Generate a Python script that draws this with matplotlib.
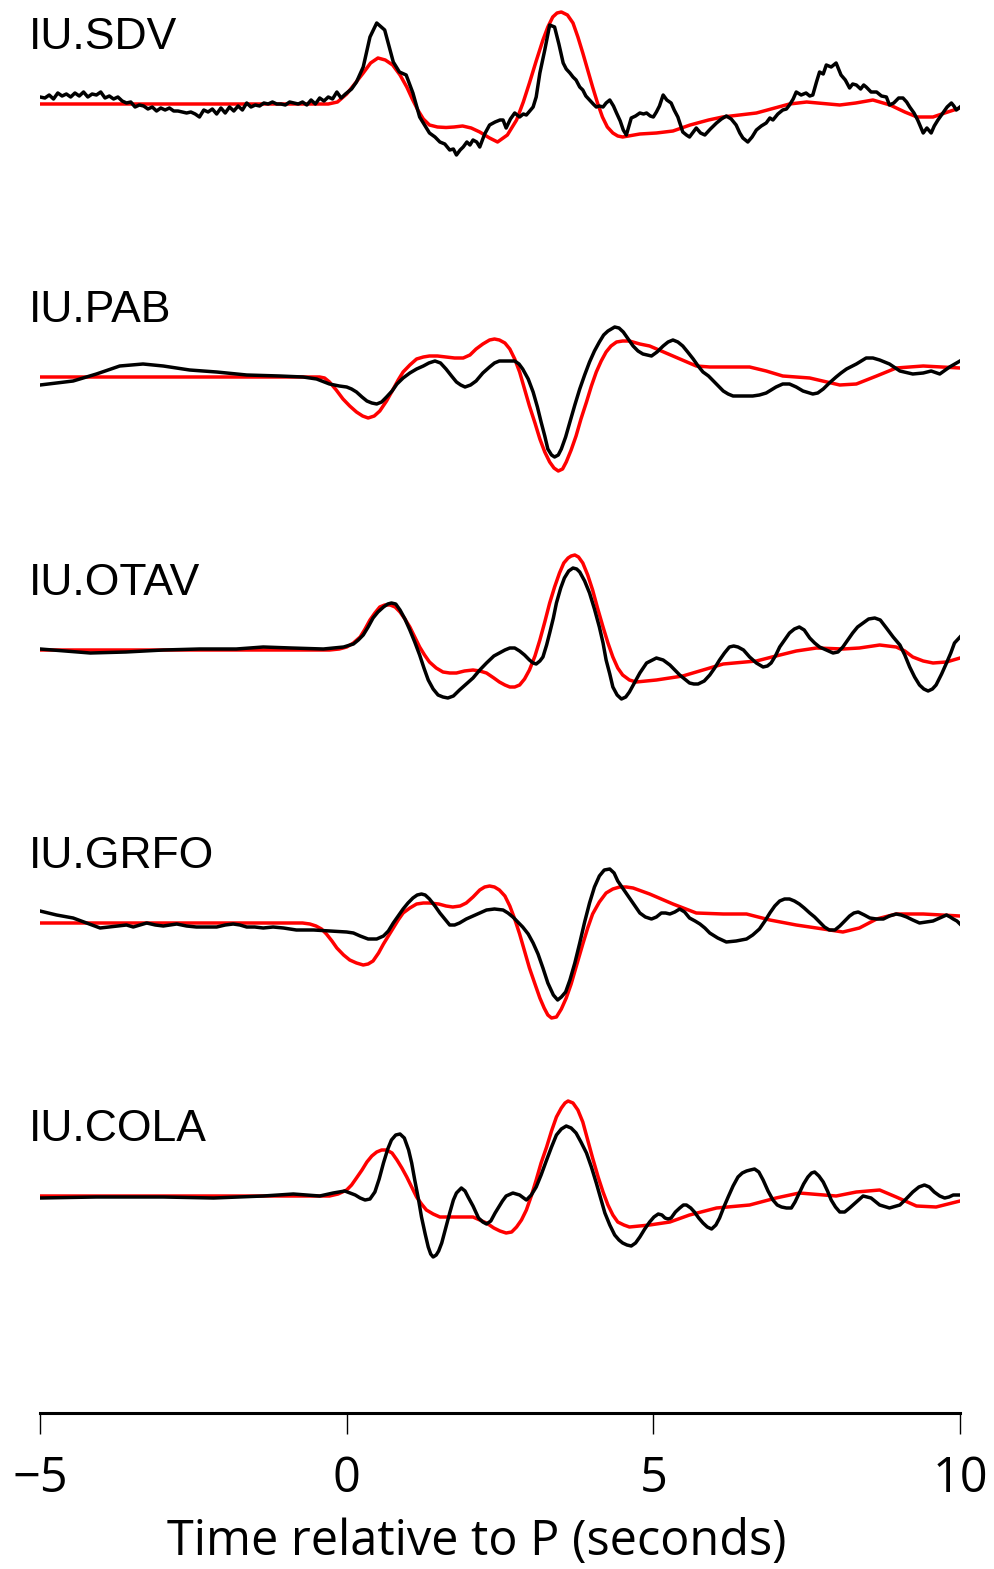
import numpy as np
import matplotlib
matplotlib.use("Agg")
import matplotlib.pyplot as plt

# Station names, top to bottom
stations = ["IU.SDV", "IU.PAB", "IU.OTAV", "IU.GRFO", "IU.COLA"]

# ---------------- IU.SDV ----------------
sdv_obs_t = [
    -5.00, -4.92, -4.85, -4.78, -4.71, -4.64, -4.57, -4.50, -4.43, -4.36,
    -4.29, -4.22, -4.15, -4.08, -4.01, -3.94, -3.87, -3.80, -3.73, -3.66,
    -3.59, -3.52, -3.45, -3.38, -3.31, -3.24, -3.17, -3.10, -3.03, -2.96,
    -2.89, -2.82, -2.75, -2.68, -2.61, -2.54, -2.47, -2.40, -2.33, -2.26,
    -2.19, -2.12, -2.05, -1.98, -1.91, -1.84, -1.77, -1.70, -1.63, -1.56,
    -1.49, -1.42, -1.35, -1.28, -1.21, -1.14, -1.07, -1.00, -0.93, -0.86,
    -0.79, -0.72, -0.65, -0.58, -0.51, -0.44, -0.37, -0.30, -0.23, -0.16,
    -0.09, -0.02,
    0.08, 0.16, 0.27, 0.38, 0.49, 0.62, 0.76, 0.86, 0.97, 1.08,
    1.19, 1.35, 1.44, 1.52, 1.60, 1.68, 1.74, 1.79, 1.85, 1.90,
    1.96, 2.01, 2.06, 2.12, 2.17, 2.25, 2.33, 2.42, 2.50, 2.55,
    2.60, 2.67, 2.74, 2.82, 2.88, 2.93, 3.04, 3.09, 3.15, 3.23,
    3.31, 3.39, 3.46, 3.53, 3.58, 3.64, 3.69, 3.74, 3.80, 3.85,
    3.90, 3.96, 4.02, 4.07, 4.12, 4.18, 4.23, 4.29, 4.35, 4.40,
    4.46, 4.51, 4.56, 4.64, 4.71, 4.78, 4.84, 4.89, 4.95, 5.00,
    5.05, 5.10, 5.16, 5.22, 5.29, 5.34, 5.40, 5.48, 5.54, 5.59,
    5.65, 5.70, 5.77, 5.84, 5.93, 6.03, 6.11, 6.19, 6.27, 6.35,
    6.41, 6.46, 6.54, 6.61, 6.68, 6.76, 6.84, 6.90, 6.95, 7.03,
    7.11, 7.17, 7.22, 7.28, 7.33, 7.41, 7.49, 7.55, 7.60, 7.66,
    7.71, 7.77, 7.82, 7.90, 7.98, 8.06, 8.13, 8.20, 8.25, 8.31,
    8.38, 8.43, 8.47, 8.55, 8.64, 8.72, 8.80, 8.85, 8.92, 9.00,
    9.07, 9.13, 9.18, 9.25, 9.31, 9.40, 9.46, 9.53, 9.58, 9.64,
    9.72, 9.79, 9.86, 9.90, 9.94, 10.0,
]
sdv_obs_a = [
    0.07, 0.06, 0.09, 0.05, 0.11, 0.08, 0.10, 0.07, 0.11, 0.08,
    0.12, 0.07, 0.10, 0.09, 0.12, 0.06, 0.08, 0.05, 0.07, 0.03,
    0.01, 0.02, -0.03, -0.01, -0.02, -0.05, -0.03, -0.07, -0.04, -0.06,
    -0.04, -0.07, -0.07, -0.08, -0.09, -0.08, -0.10, -0.13, -0.06, -0.08,
    -0.05, -0.10, -0.04, -0.09, -0.03, -0.07, -0.02, -0.06, 0.01, -0.03,
    -0.01, -0.02, 0.01, 0.00, 0.02, 0.00, 0.00, -0.01, 0.02, 0.01,
    0.00, 0.02, -0.01, 0.04, 0.00, 0.06, 0.03, 0.07, 0.05, 0.12,
    0.06, 0.10,
    0.15, 0.22, 0.37, 0.67, 0.81, 0.74, 0.42, 0.32, 0.29, 0.11,
    -0.13, -0.29, -0.33, -0.38, -0.40, -0.46, -0.45, -0.51, -0.46, -0.43,
    -0.38, -0.41, -0.36, -0.38, -0.43, -0.30, -0.21, -0.18, -0.16, -0.16,
    -0.24, -0.15, -0.09, -0.13, -0.10, -0.11, -0.03, 0.07, 0.31, 0.54,
    0.79, 0.77, 0.60, 0.41, 0.35, 0.31, 0.27, 0.24, 0.17, 0.14,
    0.08, 0.04, 0.00, -0.03, -0.02, -0.03, 0.01, 0.04, -0.02, -0.09,
    -0.17, -0.26, -0.31, -0.14, -0.12, -0.09, -0.10, -0.09, -0.12, -0.13,
    -0.08, -0.02, 0.09, 0.04, 0.01, -0.06, -0.13, -0.28, -0.31, -0.33,
    -0.28, -0.24, -0.29, -0.31, -0.25, -0.19, -0.15, -0.12, -0.15, -0.21,
    -0.29, -0.34, -0.38, -0.33, -0.26, -0.22, -0.19, -0.14, -0.16, -0.10,
    -0.06, -0.05, -0.01, 0.05, 0.12, 0.09, 0.11, 0.08, 0.09, 0.22,
    0.32, 0.30, 0.39, 0.37, 0.41, 0.29, 0.24, 0.16, 0.20, 0.19,
    0.15, 0.19, 0.17, 0.12, 0.12, 0.08, 0.07, -0.01, 0.01, 0.06,
    0.06, 0.02, -0.03, -0.09, -0.16, -0.29, -0.24, -0.29, -0.22, -0.16,
    -0.09, -0.03, 0.01, -0.02, -0.06, -0.03,
]
sdv_syn_t = [
    -5.0, -0.30, -0.15, 0.00, 0.13, 0.27, 0.39, 0.51, 0.63, 0.75,
    0.87, 0.98, 1.07, 1.16, 1.25, 1.35, 1.48, 1.62, 1.75, 1.89,
    2.03, 2.17, 2.33, 2.46, 2.62, 2.77, 2.88, 2.98, 3.09, 3.20,
    3.28, 3.36, 3.43, 3.50, 3.60, 3.69, 3.77, 3.85, 3.93, 4.01,
    4.09, 4.17, 4.25, 4.34, 4.42, 4.50, 4.78, 5.05, 5.32, 5.60,
    5.90, 6.13, 6.68, 7.22, 7.50, 8.04, 8.30, 8.58, 8.86, 9.10,
    9.30, 9.56, 9.80, 10.0,
]
sdv_syn_a = [
    0.0, 0.0, 0.02, 0.10, 0.20, 0.31, 0.41, 0.46, 0.44, 0.39,
    0.29, 0.17, 0.05, -0.06, -0.15, -0.21, -0.23, -0.235, -0.23, -0.22,
    -0.24, -0.28, -0.34, -0.38, -0.31, -0.16, 0.02, 0.21, 0.43, 0.64,
    0.77, 0.87, 0.91, 0.92, 0.89, 0.81, 0.67, 0.51, 0.34, 0.17,
    0.01, -0.13, -0.23, -0.29, -0.32, -0.33, -0.30, -0.29, -0.27, -0.21,
    -0.16, -0.13, -0.09, 0.00, 0.02, -0.01, 0.01, 0.04, -0.01, -0.08,
    -0.13, -0.13, -0.08, -0.04,
]

# ---------------- IU.PAB ----------------
pab_obs_t = [
    -5.0, -4.46, -4.08, -3.70, -3.32, -2.99, -2.56, -2.12, -1.63, -1.09,
    -0.71, -0.49, -0.28, -0.12, 0.00, 0.08, 0.16, 0.25, 0.33, 0.41,
    0.49, 0.57, 0.65, 0.74, 0.82, 0.92, 1.03, 1.14, 1.25, 1.34,
    1.44, 1.53, 1.62, 1.71, 1.79, 1.86, 1.93, 2.02, 2.11, 2.22,
    2.33, 2.41, 2.49, 2.62, 2.74, 2.81, 2.87, 2.96, 3.04, 3.11,
    3.17, 3.23, 3.28, 3.34, 3.39, 3.45, 3.50, 3.57, 3.64, 3.72,
    3.80, 3.88, 3.96, 4.04, 4.12, 4.19, 4.26, 4.37, 4.44, 4.51,
    4.59, 4.67, 4.75, 4.83, 4.97, 5.06, 5.16, 5.24, 5.32, 5.40,
    5.48, 5.56, 5.65, 5.73, 5.81, 5.90, 5.98, 6.06, 6.14, 6.22,
    6.30, 6.46, 6.62, 6.73, 6.84, 6.92, 7.00, 7.11, 7.22, 7.33,
    7.44, 7.60, 7.68, 7.77, 7.87, 7.98, 8.06, 8.15, 8.31, 8.47,
    8.58, 8.69, 8.85, 9.02, 9.23, 9.40, 9.53, 9.67, 9.83, 10.0,
]
pab_obs_a = [
    -0.08, -0.04, 0.03, 0.11, 0.13, 0.11, 0.07, 0.05, 0.02, 0.01,
    0.00, -0.02, -0.07, -0.09, -0.10, -0.12, -0.15, -0.20, -0.24, -0.26,
    -0.27, -0.25, -0.20, -0.14, -0.07, -0.01, 0.04, 0.08, 0.11, 0.14,
    0.16, 0.14, 0.08, 0.01, -0.05, -0.08, -0.10, -0.08, -0.04, 0.04,
    0.10, 0.14, 0.16, 0.16, 0.16, 0.13, 0.08, -0.02, -0.15, -0.30,
    -0.45, -0.59, -0.72, -0.78, -0.80, -0.78, -0.72, -0.60, -0.45, -0.28,
    -0.12, 0.02, 0.15, 0.26, 0.35, 0.42, 0.46, 0.50, 0.49, 0.45,
    0.38, 0.31, 0.26, 0.23, 0.21, 0.25, 0.31, 0.35, 0.37, 0.35,
    0.31, 0.25, 0.18, 0.11, 0.05, 0.01, -0.04, -0.09, -0.14, -0.17,
    -0.19, -0.19, -0.19, -0.18, -0.16, -0.13, -0.10, -0.07, -0.07, -0.10,
    -0.14, -0.17, -0.16, -0.12, -0.06, 0.00, 0.04, 0.08, 0.13, 0.19,
    0.19, 0.17, 0.13, 0.06, 0.03, 0.04, 0.06, 0.03, 0.10, 0.16,
]
pab_syn_t = [
    -5.0, -0.44, -0.36, -0.28, -0.17, -0.06, 0.05, 0.16, 0.26, 0.35,
    0.45, 0.54, 0.65, 0.76, 0.84, 0.92, 1.03, 1.14, 1.25, 1.35,
    1.48, 1.62, 1.76, 1.90, 2.01, 2.11, 2.22, 2.33, 2.41, 2.49,
    2.58, 2.66, 2.74, 2.82, 2.90, 2.98, 3.07, 3.15, 3.23, 3.31,
    3.38, 3.45, 3.52, 3.58, 3.66, 3.74, 3.82, 3.91, 3.99, 4.07,
    4.15, 4.23, 4.31, 4.40, 4.50, 4.61, 4.78, 4.94, 5.13, 5.32,
    5.51, 5.70, 5.92, 6.14, 6.57, 6.84, 7.11, 7.55, 8.04, 8.31,
    8.64, 8.96, 9.40, 10.0,
]
pab_syn_a = [
    0.0, 0.0, -0.01, -0.05, -0.13, -0.22, -0.29, -0.35, -0.39, -0.41,
    -0.39, -0.34, -0.24, -0.12, -0.03, 0.05, 0.12, 0.18, 0.20, 0.21,
    0.21, 0.20, 0.19, 0.19, 0.22, 0.28, 0.33, 0.37, 0.38, 0.37,
    0.34, 0.28, 0.18, 0.05, -0.12, -0.29, -0.46, -0.62, -0.75, -0.85,
    -0.91, -0.94, -0.92, -0.85, -0.73, -0.59, -0.42, -0.25, -0.09, 0.05,
    0.16, 0.25, 0.31, 0.35, 0.36, 0.36, 0.33, 0.31, 0.26, 0.21,
    0.16, 0.11, 0.10, 0.10, 0.10, 0.06, 0.01, -0.01, -0.08, -0.07,
    0.01, 0.09, 0.11, 0.09,
]

# ---------------- IU.OTAV ----------------
otav_obs_t = [
    -5.0, -4.6, -4.18, -3.6, -2.99, -2.4, -1.8, -1.36, -0.9, -0.38,
    -0.05, 0.11, 0.19, 0.27, 0.35, 0.43, 0.51, 0.60, 0.67, 0.73,
    0.80, 0.87, 0.95, 1.03, 1.11, 1.19, 1.26, 1.33, 1.41, 1.49,
    1.57, 1.65, 1.74, 1.84, 1.95, 2.06, 2.17, 2.28, 2.40, 2.49,
    2.58, 2.66, 2.74, 2.82, 2.90, 2.98, 3.04, 3.09, 3.15, 3.20,
    3.26, 3.31, 3.37, 3.42, 3.49, 3.55, 3.62, 3.69, 3.75, 3.80,
    3.88, 3.96, 4.04, 4.12, 4.18, 4.23, 4.29, 4.34, 4.41, 4.48,
    4.55, 4.61, 4.70, 4.78, 4.89, 5.05, 5.16, 5.27, 5.35, 5.43,
    5.51, 5.59, 5.66, 5.73, 5.83, 5.92, 6.00, 6.08, 6.16, 6.24,
    6.31, 6.38, 6.47, 6.57, 6.68, 6.79, 6.86, 6.92, 6.99, 7.06,
    7.14, 7.22, 7.30, 7.38, 7.46, 7.55, 7.63, 7.71, 7.82, 7.93,
    8.01, 8.09, 8.17, 8.25, 8.33, 8.42, 8.51, 8.61, 8.70, 8.80,
    8.91, 9.02, 9.10, 9.18, 9.26, 9.34, 9.41, 9.48, 9.55, 9.61,
    9.70, 9.78, 9.85, 9.91, 10.0,
]
otav_obs_a = [
    0.01, -0.01, -0.03, -0.02, 0.00, 0.01, 0.01, 0.03, 0.02, 0.01,
    0.03, 0.06, 0.10, 0.15, 0.23, 0.32, 0.38, 0.43, 0.46, 0.47,
    0.46, 0.40, 0.31, 0.20, 0.08, -0.05, -0.18, -0.30, -0.39, -0.45,
    -0.47, -0.48, -0.46, -0.40, -0.34, -0.28, -0.20, -0.13, -0.06, -0.03,
    0.00, 0.02, 0.02, -0.01, -0.05, -0.10, -0.13, -0.14, -0.11, -0.07,
    0.05, 0.17, 0.32, 0.47, 0.62, 0.72, 0.79, 0.82, 0.81, 0.78,
    0.69, 0.57, 0.41, 0.23, 0.07, -0.10, -0.24, -0.37, -0.45, -0.49,
    -0.47, -0.42, -0.32, -0.23, -0.13, -0.08, -0.10, -0.15, -0.20, -0.25,
    -0.29, -0.33, -0.34, -0.34, -0.31, -0.25, -0.18, -0.10, -0.03, 0.03,
    0.04, 0.03, 0.00, -0.07, -0.13, -0.17, -0.16, -0.13, -0.06, 0.03,
    0.10, 0.17, 0.21, 0.23, 0.20, 0.12, 0.07, 0.03, 0.00, -0.03,
    -0.02, 0.03, 0.10, 0.17, 0.23, 0.27, 0.31, 0.32, 0.30, 0.22,
    0.13, 0.05, -0.05, -0.17, -0.27, -0.35, -0.39, -0.41, -0.39, -0.35,
    -0.24, -0.13, -0.03, 0.07, 0.13,
]
otav_syn_t = [
    -5.0, -2.0, -0.28, -0.12, 0.00, 0.11, 0.22, 0.30, 0.38, 0.46,
    0.54, 0.62, 0.71, 0.79, 0.87, 0.95, 1.03, 1.11, 1.19, 1.27,
    1.35, 1.46, 1.57, 1.68, 1.79, 1.92, 2.06, 2.17, 2.28, 2.40,
    2.49, 2.58, 2.66, 2.74, 2.82, 2.90, 2.98, 3.07, 3.15, 3.23,
    3.31, 3.39, 3.47, 3.54, 3.61, 3.66, 3.72, 3.78, 3.85, 3.93,
    4.01, 4.09, 4.18, 4.26, 4.34, 4.42, 4.50, 4.61, 4.72, 5.05,
    5.48, 5.70, 6.14, 6.68, 7.00, 7.33, 7.66, 8.09, 8.36, 8.69,
    8.96, 9.10, 9.23, 9.40, 9.56, 9.78, 10.0,
]
otav_syn_a = [
    0.0, 0.0, 0.0, 0.01, 0.03, 0.07, 0.13, 0.21, 0.30, 0.37,
    0.43, 0.45, 0.45, 0.43, 0.38, 0.31, 0.23, 0.13, 0.03, -0.05,
    -0.12, -0.18, -0.22, -0.23, -0.23, -0.21, -0.20, -0.21, -0.23, -0.28,
    -0.32, -0.35, -0.37, -0.37, -0.35, -0.29, -0.20, -0.06, 0.10, 0.28,
    0.47, 0.63, 0.77, 0.87, 0.92, 0.94, 0.95, 0.93, 0.87, 0.75,
    0.60, 0.42, 0.23, 0.07, -0.07, -0.18, -0.25, -0.30, -0.32, -0.30,
    -0.26, -0.22, -0.14, -0.11, -0.06, -0.01, 0.02, 0.01, 0.02, 0.05,
    0.03, -0.01, -0.07, -0.11, -0.13, -0.12, -0.08,
]

# ---------------- IU.GRFO ----------------
grfo_obs_t = [
    -5.0, -4.73, -4.46, -4.24, -4.02, -3.88, -3.75, -3.59, -3.48, -3.37,
    -3.26, -3.12, -2.99, -2.88, -2.77, -2.61, -2.45, -2.28, -2.12, -1.98,
    -1.85, -1.74, -1.63, -1.50, -1.36, -1.20, -1.03, -0.82, -0.54, -0.28,
    0.00, 0.11, 0.22, 0.35, 0.49, 0.60, 0.68, 0.76, 0.84, 0.92,
    1.00, 1.08, 1.15, 1.22, 1.28, 1.35, 1.44, 1.52, 1.60, 1.68,
    1.76, 1.84, 1.95, 2.06, 2.17, 2.28, 2.41, 2.55, 2.63, 2.71,
    2.79, 2.87, 2.96, 3.04, 3.12, 3.20, 3.28, 3.37, 3.44, 3.50,
    3.57, 3.64, 3.72, 3.80, 3.88, 3.96, 4.04, 4.12, 4.20, 4.29,
    4.36, 4.42, 4.51, 4.61, 4.70, 4.78, 4.87, 4.97, 5.05, 5.13,
    5.20, 5.27, 5.35, 5.43, 5.51, 5.59, 5.68, 5.76, 5.84, 5.92,
    6.05, 6.19, 6.35, 6.52, 6.62, 6.73, 6.82, 6.90, 6.98, 7.06,
    7.14, 7.22, 7.30, 7.38, 7.46, 7.55, 7.63, 7.71, 7.79, 7.87,
    7.96, 8.04, 8.12, 8.20, 8.27, 8.34, 8.44, 8.53, 8.64, 8.75,
    8.85, 8.96, 9.04, 9.13, 9.23, 9.34, 9.45, 9.56, 9.67, 9.78,
    9.84, 9.89, 9.95, 10.0,
]
grfo_obs_a = [
    0.12, 0.08, 0.05, 0.00, -0.05, -0.04, -0.03, -0.02, -0.04, -0.02,
    0.00, -0.02, -0.03, -0.02, -0.01, -0.03, -0.04, -0.04, -0.04, -0.02,
    -0.01, -0.02, -0.04, -0.04, -0.05, -0.04, -0.05, -0.07, -0.07, -0.08,
    -0.09, -0.10, -0.13, -0.16, -0.16, -0.13, -0.08, 0.00, 0.07, 0.14,
    0.20, 0.25, 0.28, 0.29, 0.28, 0.24, 0.17, 0.10, 0.04, -0.02,
    -0.02, 0.00, 0.04, 0.07, 0.10, 0.13, 0.14, 0.13, 0.10, 0.06,
    0.01, -0.04, -0.11, -0.20, -0.31, -0.45, -0.60, -0.72, -0.77, -0.74,
    -0.69, -0.57, -0.40, -0.20, 0.01, 0.20, 0.36, 0.47, 0.53, 0.54,
    0.50, 0.42, 0.34, 0.25, 0.17, 0.10, 0.06, 0.04, 0.06, 0.10,
    0.10, 0.09, 0.11, 0.14, 0.11, 0.05, 0.02, -0.01, -0.05, -0.10,
    -0.15, -0.19, -0.18, -0.16, -0.12, -0.06, 0.02, 0.10, 0.17, 0.22,
    0.24, 0.24, 0.22, 0.19, 0.15, 0.10, 0.06, 0.01, -0.04, -0.07,
    -0.07, -0.03, 0.02, 0.07, 0.10, 0.11, 0.08, 0.05, 0.04, 0.04,
    0.07, 0.09, 0.08, 0.06, 0.03, 0.00, 0.01, 0.02, 0.05, 0.08,
    0.06, 0.04, 0.02, -0.01,
]
grfo_syn_t = [
    -5.0, -0.72, -0.60, -0.50, -0.41, -0.33, -0.24, -0.16, -0.05, 0.05,
    0.16, 0.27, 0.35, 0.43, 0.52, 0.60, 0.68, 0.76, 0.84, 0.92,
    1.03, 1.14, 1.25, 1.35, 1.50, 1.62, 1.73, 1.85, 1.95, 2.06,
    2.17, 2.25, 2.33, 2.41, 2.49, 2.58, 2.66, 2.74, 2.82, 2.90,
    2.98, 3.07, 3.15, 3.22, 3.28, 3.34, 3.42, 3.50, 3.58, 3.66,
    3.75, 3.85, 3.93, 4.01, 4.12, 4.23, 4.34, 4.45, 4.56, 4.67,
    4.94, 5.32, 5.70, 6.14, 6.52, 6.90, 7.33, 7.77, 8.09, 8.36,
    8.64, 8.96, 9.40, 10.0,
]
grfo_syn_a = [
    0.0, 0.0, -0.01, -0.03, -0.06, -0.11, -0.18, -0.25, -0.32, -0.37,
    -0.40, -0.42, -0.41, -0.38, -0.30, -0.21, -0.13, -0.05, 0.03, 0.10,
    0.15, 0.19, 0.20, 0.20, 0.19, 0.17, 0.16, 0.17, 0.20, 0.26,
    0.33, 0.36, 0.37, 0.36, 0.33, 0.27, 0.17, 0.04, -0.11, -0.28,
    -0.45, -0.61, -0.75, -0.85, -0.92, -0.95, -0.94, -0.86, -0.75, -0.61,
    -0.42, -0.21, -0.05, 0.09, 0.21, 0.30, 0.34, 0.36, 0.36, 0.35,
    0.29, 0.19, 0.10, 0.09, 0.09, 0.03, -0.02, -0.06, -0.09, -0.05,
    0.04, 0.09, 0.09, 0.07,
]

# ---------------- IU.COLA ----------------
cola_obs_t = [
    -5.0, -4.08, -2.99, -2.17, -1.36, -0.87, -0.44, -0.22, -0.03, 0.14,
    0.22, 0.30, 0.38, 0.46, 0.53, 0.60, 0.67, 0.73, 0.80, 0.87,
    0.94, 1.01, 1.06, 1.11, 1.17, 1.22, 1.28, 1.33, 1.37, 1.41,
    1.46, 1.50, 1.55, 1.61, 1.68, 1.74, 1.79, 1.87, 1.93, 1.98,
    2.06, 2.15, 2.22, 2.28, 2.35, 2.42, 2.47, 2.54, 2.60, 2.71,
    2.82, 2.93, 3.01, 3.09, 3.17, 3.26, 3.34, 3.42, 3.50, 3.58,
    3.66, 3.74, 3.82, 3.91, 3.99, 4.07, 4.14, 4.21, 4.29, 4.37,
    4.44, 4.50, 4.57, 4.64, 4.71, 4.78, 4.86, 4.94, 5.01, 5.08,
    5.14, 5.19, 5.24, 5.29, 5.36, 5.43, 5.49, 5.54, 5.61, 5.67,
    5.74, 5.81, 5.88, 5.95, 6.02, 6.08, 6.15, 6.22, 6.30, 6.38,
    6.45, 6.52, 6.58, 6.65, 6.72, 6.79, 6.87, 6.95, 7.02, 7.09,
    7.17, 7.25, 7.31, 7.38, 7.45, 7.52, 7.58, 7.63, 7.70, 7.77,
    7.84, 7.90, 7.97, 8.04, 8.12, 8.20, 8.31, 8.42, 8.55, 8.69,
    8.85, 9.02, 9.12, 9.23, 9.33, 9.42, 9.50, 9.58, 9.67, 9.75,
    9.82, 9.89, 10.0,
]
cola_obs_a = [
    -0.02, -0.01, -0.01, -0.02, 0.00, 0.02, 0.00, 0.03, 0.05, 0.01,
    -0.02, -0.04, -0.03, 0.04, 0.17, 0.33, 0.47, 0.56, 0.61, 0.62,
    0.58, 0.46, 0.33, 0.16, -0.03, -0.21, -0.38, -0.51, -0.58, -0.61,
    -0.59, -0.55, -0.47, -0.33, -0.17, -0.04, 0.03, 0.08, 0.05, -0.01,
    -0.10, -0.22, -0.26, -0.28, -0.25, -0.17, -0.12, -0.05, 0.00, 0.03,
    0.01, -0.04, 0.01, 0.09, 0.21, 0.36, 0.49, 0.61, 0.67, 0.70,
    0.68, 0.63, 0.54, 0.43, 0.29, 0.13, -0.02, -0.17, -0.29, -0.39,
    -0.44, -0.47, -0.49, -0.50, -0.47, -0.41, -0.33, -0.26, -0.21, -0.18,
    -0.19, -0.22, -0.23, -0.22, -0.16, -0.12, -0.09, -0.09, -0.12, -0.16,
    -0.22, -0.27, -0.31, -0.33, -0.29, -0.22, -0.11, -0.01, 0.10, 0.19,
    0.23, 0.25, 0.26, 0.27, 0.24, 0.16, 0.05, -0.04, -0.09, -0.11,
    -0.12, -0.12, -0.06, 0.03, 0.12, 0.19, 0.23, 0.24, 0.20, 0.14,
    0.05, -0.04, -0.11, -0.16, -0.16, -0.12, -0.06, 0.00, -0.02, -0.09,
    -0.12, -0.09, -0.03, 0.04, 0.09, 0.11, 0.09, 0.04, 0.00, -0.02,
    -0.01, 0.01, 0.01,
]
cola_syn_t = [
    -5.0, -0.28, -0.14, 0.00, 0.08, 0.16, 0.25, 0.33, 0.41, 0.49,
    0.57, 0.65, 0.74, 0.82, 0.90, 0.98, 1.06, 1.14, 1.22, 1.30,
    1.41, 1.52, 1.65, 1.79, 1.92, 2.06, 2.17, 2.28, 2.40, 2.50,
    2.60, 2.69, 2.77, 2.85, 2.93, 3.01, 3.09, 3.17, 3.26, 3.34,
    3.42, 3.50, 3.56, 3.61, 3.69, 3.77, 3.85, 3.93, 4.01, 4.10,
    4.18, 4.26, 4.34, 4.42, 4.52, 4.61, 4.94, 5.27, 5.59, 6.03,
    6.57, 7.00, 7.38, 7.98, 8.31, 8.69, 8.96, 9.29, 9.61, 10.0,
]
cola_syn_a = [
    0.0, 0.0, 0.02, 0.06, 0.11, 0.18, 0.26, 0.34, 0.40, 0.44,
    0.46, 0.46, 0.43, 0.36, 0.28, 0.19, 0.09, -0.01, -0.08, -0.14,
    -0.18, -0.21, -0.21, -0.21, -0.21, -0.21, -0.24, -0.27, -0.32, -0.35,
    -0.37, -0.36, -0.31, -0.24, -0.14, 0.00, 0.16, 0.33, 0.49, 0.65,
    0.79, 0.88, 0.93, 0.95, 0.93, 0.86, 0.74, 0.56, 0.38, 0.19,
    0.04, -0.09, -0.19, -0.26, -0.29, -0.31, -0.29, -0.26, -0.19, -0.12,
    -0.09, -0.02, 0.03, 0.00, 0.04, 0.06, -0.01, -0.10, -0.11, -0.05,
]

tick_values = [-5, 0, 5, 10]
tick_labels = ["\u22125", "0", "5", "10"]
x_label = "Time relative to P (seconds)"

observed = [
    (sdv_obs_t, sdv_obs_a), (pab_obs_t, pab_obs_a), (otav_obs_t, otav_obs_a),
    (grfo_obs_t, grfo_obs_a), (cola_obs_t, cola_obs_a),
]
synthetic = [
    (sdv_syn_t, sdv_syn_a), (pab_syn_t, pab_syn_a), (otav_syn_t, otav_syn_a),
    (grfo_syn_t, grfo_syn_a), (cola_syn_t, cola_syn_a),
]

W, H = 994, 1569
fig = plt.figure(figsize=(W / 100, H / 100), dpi=100)
ax = fig.add_axes([40 / W, 1 - 1413 / H, 920 / W, 1413 / H])

spacing = 2.73  # vertical offset between stacked traces
for i, name in enumerate(stations):
    base = -i * spacing
    st, sa = synthetic[i]
    ot, oa = observed[i]
    ax.plot(st, base + np.asarray(sa), color="#ff0000", lw=2.5, zorder=2,
            solid_joinstyle="round")
    ax.plot(ot, base + np.asarray(oa), color="black", lw=2.5, zorder=3,
            solid_joinstyle="round")
    ax.text(-5.18, base + 0.55, name, fontsize=32, family="Liberation Sans",
            ha="left", va="baseline", clip_on=False)

ax.set_xlim(-5, 10)
ax.set_ylim(-13.09, 1.04)
for side in ("left", "top", "right"):
    ax.spines[side].set_visible(False)
ax.spines["bottom"].set_linewidth(2.2)
ax.spines["bottom"].set_bounds(-5, 10)
ax.set_yticks([])
ax.set_xticks(tick_values)
ax.set_xticklabels(tick_labels, family="Open Sans", fontsize=35)
ax.tick_params(axis="x", direction="out", length=15, width=1.0, pad=15)

fig.text(477 / W, 1 - 1555 / H, x_label, ha="center", va="baseline",
         fontsize=35, family="Open Sans")

fig.savefig("out.png", dpi=100)
